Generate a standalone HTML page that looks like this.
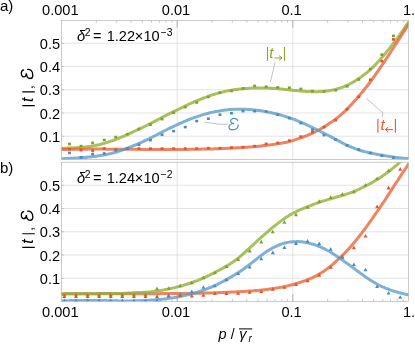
<!DOCTYPE html>
<html><head><meta charset="utf-8"><style>html,body{margin:0;padding:0;background:#fff}</style></head><body><svg width="415" height="344" viewBox="0 0 415 344" style="display:block;will-change:transform;font-family:'Liberation Sans',sans-serif">
<rect width="415" height="344" fill="#fff"/>
<defs>
<clipPath id="ca"><rect x="61.5" y="20.5" width="347.0" height="138.9"/></clipPath>
<clipPath id="cb"><rect x="61.5" y="162.2" width="347.0" height="139.10000000000002"/></clipPath>
</defs>
<path d="M177.17 20.5 V159.4 M177.17 162.2 V301.3 M292.83 20.5 V159.4 M292.83 162.2 V301.3 M61.5 136.20 H408.5 M61.5 278.25 H408.5 M61.5 112.95 H408.5 M61.5 255.00 H408.5 M61.5 89.70 H408.5 M61.5 231.75 H408.5 M61.5 66.45 H408.5 M61.5 208.50 H408.5 M61.5 43.20 H408.5 M61.5 185.25 H408.5" stroke="#d2d2d2" stroke-width="0.6" fill="none"/>
<g clip-path="url(#ca)">
<path d="M46.5 148.1 L48.0 148.1 L49.5 148.1 L51.0 148.1 L52.5 148.1 L54.0 148.1 L55.5 148.2 L57.0 148.2 L58.5 148.2 L60.0 148.2 L61.5 148.2 L63.0 148.2 L64.5 148.2 L66.0 148.2 L67.5 148.1 L69.0 148.1 L70.5 148.0 L72.0 148.0 L73.5 147.9 L75.0 147.8 L76.5 147.7 L78.0 147.6 L79.5 147.5 L81.0 147.4 L82.5 147.3 L84.0 147.2 L85.5 147.0 L87.0 146.8 L88.5 146.6 L90.0 146.4 L91.5 146.1 L93.0 145.9 L94.5 145.6 L96.0 145.3 L97.5 145.0 L99.0 144.7 L100.5 144.3 L102.0 143.9 L103.5 143.5 L105.0 143.1 L106.5 142.6 L108.0 142.2 L109.5 141.7 L111.0 141.2 L112.5 140.7 L114.0 140.1 L115.5 139.5 L117.0 138.9 L118.5 138.3 L120.0 137.7 L121.5 137.1 L123.0 136.5 L124.5 135.8 L126.0 135.1 L127.5 134.5 L129.0 133.8 L130.5 133.1 L132.0 132.4 L133.5 131.7 L135.0 131.0 L136.5 130.3 L138.0 129.6 L139.5 128.9 L141.0 128.2 L142.5 127.5 L144.0 126.7 L145.5 126.0 L147.0 125.3 L148.5 124.5 L150.0 123.7 L151.5 123.0 L153.0 122.2 L154.5 121.4 L156.0 120.6 L157.5 119.8 L159.0 119.0 L160.5 118.2 L162.0 117.4 L163.5 116.6 L165.0 115.8 L166.5 115.1 L168.0 114.3 L169.5 113.6 L171.0 112.9 L172.5 112.1 L174.0 111.4 L175.5 110.7 L177.0 110.0 L178.5 109.3 L180.0 108.5 L181.5 107.8 L183.0 107.1 L184.5 106.3 L186.0 105.6 L187.5 104.9 L189.0 104.2 L190.5 103.5 L192.0 102.8 L193.5 102.2 L195.0 101.5 L196.5 100.9 L198.0 100.3 L199.5 99.7 L201.0 99.1 L202.5 98.5 L204.0 97.9 L205.5 97.3 L207.0 96.8 L208.5 96.2 L210.0 95.7 L211.5 95.2 L213.0 94.7 L214.5 94.3 L216.0 93.8 L217.5 93.4 L219.0 92.9 L220.5 92.5 L222.0 92.1 L223.5 91.8 L225.0 91.4 L226.5 91.1 L228.0 90.8 L229.5 90.5 L231.0 90.3 L232.5 90.0 L234.0 89.8 L235.5 89.6 L237.0 89.4 L238.5 89.2 L240.0 89.0 L241.5 88.9 L243.0 88.7 L244.5 88.6 L246.0 88.5 L247.5 88.4 L249.0 88.3 L250.5 88.2 L252.0 88.1 L253.5 88.1 L255.0 88.0 L256.5 88.0 L258.0 88.0 L259.5 88.0 L261.0 88.0 L262.5 88.0 L264.0 88.0 L265.5 88.0 L267.0 88.1 L268.5 88.1 L270.0 88.2 L271.5 88.3 L273.0 88.4 L274.5 88.5 L276.0 88.6 L277.5 88.7 L279.0 88.8 L280.5 89.0 L282.0 89.1 L283.5 89.3 L285.0 89.4 L286.5 89.6 L288.0 89.7 L289.5 89.9 L291.0 90.0 L292.5 90.2 L294.0 90.4 L295.5 90.5 L297.0 90.7 L298.5 90.8 L300.0 91.0 L301.5 91.1 L303.0 91.2 L304.5 91.3 L306.0 91.4 L307.5 91.5 L309.0 91.6 L310.5 91.6 L312.0 91.7 L313.5 91.7 L315.0 91.7 L316.5 91.7 L318.0 91.7 L319.5 91.6 L321.0 91.5 L322.5 91.4 L324.0 91.3 L325.5 91.1 L327.0 90.9 L328.5 90.7 L330.0 90.5 L331.5 90.2 L333.0 89.9 L334.5 89.6 L336.0 89.2 L337.5 88.8 L339.0 88.3 L340.5 87.8 L342.0 87.3 L343.5 86.8 L345.0 86.1 L346.5 85.5 L348.0 84.8 L349.5 84.1 L351.0 83.3 L352.5 82.5 L354.0 81.6 L355.5 80.7 L357.0 79.7 L358.5 78.7 L360.0 77.7 L361.5 76.6 L363.0 75.5 L364.5 74.4 L366.0 73.3 L367.5 72.1 L369.0 70.8 L370.5 69.5 L372.0 68.1 L373.5 66.6 L375.0 65.1 L376.5 63.5 L378.0 61.9 L379.5 60.2 L381.0 58.5 L382.5 56.8 L384.0 55.0 L385.5 53.2 L387.0 51.4 L388.5 49.6 L390.0 47.7 L391.5 45.8 L393.0 43.9 L394.5 41.9 L396.0 39.9 L397.5 38.0 L399.0 35.9 L400.5 33.9 L402.0 31.7 L403.5 29.6 L405.0 27.4 L406.5 25.2 L408.0 23.1 L409.5 21.0 L411.0 18.9 L412.5 16.8 L414.0 14.7 L415.5 12.6 L417.0 10.6 L418.5 8.5 L420.0 6.5 L421.5 4.8 L423.0 3.5" stroke="#8fb032" stroke-opacity="0.78" stroke-width="3.0" fill="none" stroke-linejoin="round"/>
<path d="M46.5 149.7 L48.0 149.7 L49.5 149.7 L51.0 149.7 L52.5 149.6 L54.0 149.6 L55.5 149.6 L57.0 149.5 L58.5 149.5 L60.0 149.5 L61.5 149.5 L63.0 149.4 L64.5 149.4 L66.0 149.4 L67.5 149.3 L69.0 149.3 L70.5 149.3 L72.0 149.3 L73.5 149.3 L75.0 149.2 L76.5 149.2 L78.0 149.2 L79.5 149.2 L81.0 149.2 L82.5 149.2 L84.0 149.2 L85.5 149.2 L87.0 149.2 L88.5 149.1 L90.0 149.1 L91.5 149.1 L93.0 149.1 L94.5 149.1 L96.0 149.1 L97.5 149.1 L99.0 149.1 L100.5 149.1 L102.0 149.1 L103.5 149.1 L105.0 149.1 L106.5 149.2 L108.0 149.2 L109.5 149.2 L111.0 149.2 L112.5 149.2 L114.0 149.2 L115.5 149.2 L117.0 149.2 L118.5 149.2 L120.0 149.2 L121.5 149.2 L123.0 149.2 L124.5 149.2 L126.0 149.3 L127.5 149.3 L129.0 149.3 L130.5 149.3 L132.0 149.3 L133.5 149.3 L135.0 149.3 L136.5 149.3 L138.0 149.3 L139.5 149.3 L141.0 149.4 L142.5 149.4 L144.0 149.4 L145.5 149.4 L147.0 149.4 L148.5 149.4 L150.0 149.4 L151.5 149.4 L153.0 149.4 L154.5 149.4 L156.0 149.4 L157.5 149.4 L159.0 149.4 L160.5 149.4 L162.0 149.5 L163.5 149.5 L165.0 149.5 L166.5 149.5 L168.0 149.5 L169.5 149.5 L171.0 149.5 L172.5 149.4 L174.0 149.4 L175.5 149.4 L177.0 149.4 L178.5 149.4 L180.0 149.4 L181.5 149.4 L183.0 149.4 L184.5 149.4 L186.0 149.4 L187.5 149.4 L189.0 149.3 L190.5 149.3 L192.0 149.3 L193.5 149.3 L195.0 149.3 L196.5 149.2 L198.0 149.2 L199.5 149.2 L201.0 149.2 L202.5 149.1 L204.0 149.1 L205.5 149.1 L207.0 149.0 L208.5 149.0 L210.0 148.9 L211.5 148.9 L213.0 148.9 L214.5 148.8 L216.0 148.8 L217.5 148.7 L219.0 148.7 L220.5 148.6 L222.0 148.5 L223.5 148.5 L225.0 148.4 L226.5 148.4 L228.0 148.3 L229.5 148.2 L231.0 148.2 L232.5 148.1 L234.0 148.0 L235.5 147.9 L237.0 147.8 L238.5 147.8 L240.0 147.7 L241.5 147.6 L243.0 147.5 L244.5 147.4 L246.0 147.3 L247.5 147.2 L249.0 147.1 L250.5 147.0 L252.0 146.9 L253.5 146.7 L255.0 146.6 L256.5 146.5 L258.0 146.3 L259.5 146.2 L261.0 146.0 L262.5 145.8 L264.0 145.6 L265.5 145.5 L267.0 145.3 L268.5 145.1 L270.0 144.9 L271.5 144.7 L273.0 144.5 L274.5 144.3 L276.0 144.1 L277.5 143.8 L279.0 143.6 L280.5 143.4 L282.0 143.1 L283.5 142.8 L285.0 142.5 L286.5 142.2 L288.0 141.9 L289.5 141.5 L291.0 141.1 L292.5 140.7 L294.0 140.2 L295.5 139.7 L297.0 139.2 L298.5 138.7 L300.0 138.2 L301.5 137.6 L303.0 137.1 L304.5 136.5 L306.0 135.9 L307.5 135.3 L309.0 134.6 L310.5 134.0 L312.0 133.3 L313.5 132.6 L315.0 131.9 L316.5 131.1 L318.0 130.4 L319.5 129.6 L321.0 128.7 L322.5 127.9 L324.0 127.0 L325.5 126.1 L327.0 125.1 L328.5 124.1 L330.0 123.1 L331.5 122.1 L333.0 121.0 L334.5 119.9 L336.0 118.8 L337.5 117.6 L339.0 116.4 L340.5 115.1 L342.0 113.8 L343.5 112.5 L345.0 111.1 L346.5 109.6 L348.0 108.1 L349.5 106.5 L351.0 104.9 L352.5 103.2 L354.0 101.6 L355.5 99.9 L357.0 98.2 L358.5 96.4 L360.0 94.7 L361.5 92.9 L363.0 91.2 L364.5 89.3 L366.0 87.4 L367.5 85.5 L369.0 83.5 L370.5 81.5 L372.0 79.5 L373.5 77.4 L375.0 75.4 L376.5 73.2 L378.0 71.1 L379.5 68.9 L381.0 66.7 L382.5 64.5 L384.0 62.3 L385.5 60.0 L387.0 57.7 L388.5 55.4 L390.0 53.1 L391.5 50.8 L393.0 48.5 L394.5 46.2 L396.0 43.9 L397.5 41.6 L399.0 39.3 L400.5 36.9 L402.0 34.6 L403.5 32.3 L405.0 30.0 L406.5 27.7 L408.0 25.4 L409.5 23.1 L411.0 20.9 L412.5 18.6 L414.0 16.4 L415.5 14.2 L417.0 12.0 L418.5 9.8 L420.0 7.7 L421.5 5.8 L423.0 4.4" stroke="#eb6235" stroke-opacity="0.78" stroke-width="3.0" fill="none" stroke-linejoin="round"/>
<path d="M46.5 159.4 L48.0 159.4 L49.5 159.3 L51.0 159.3 L52.5 159.2 L54.0 159.1 L55.5 159.0 L57.0 159.0 L58.5 158.9 L60.0 158.8 L61.5 158.8 L63.0 158.7 L64.5 158.6 L66.0 158.6 L67.5 158.5 L69.0 158.4 L70.5 158.3 L72.0 158.3 L73.5 158.2 L75.0 158.1 L76.5 158.0 L78.0 157.9 L79.5 157.8 L81.0 157.7 L82.5 157.6 L84.0 157.5 L85.5 157.4 L87.0 157.2 L88.5 157.1 L90.0 157.0 L91.5 156.8 L93.0 156.6 L94.5 156.4 L96.0 156.2 L97.5 156.0 L99.0 155.8 L100.5 155.6 L102.0 155.3 L103.5 155.0 L105.0 154.8 L106.5 154.5 L108.0 154.1 L109.5 153.8 L111.0 153.5 L112.5 153.1 L114.0 152.7 L115.5 152.3 L117.0 151.8 L118.5 151.3 L120.0 150.8 L121.5 150.3 L123.0 149.8 L124.5 149.3 L126.0 148.7 L127.5 148.1 L129.0 147.5 L130.5 146.9 L132.0 146.3 L133.5 145.7 L135.0 145.1 L136.5 144.5 L138.0 143.9 L139.5 143.2 L141.0 142.5 L142.5 141.8 L144.0 141.1 L145.5 140.4 L147.0 139.7 L148.5 139.0 L150.0 138.2 L151.5 137.5 L153.0 136.7 L154.5 136.0 L156.0 135.2 L157.5 134.4 L159.0 133.6 L160.5 132.8 L162.0 132.1 L163.5 131.3 L165.0 130.5 L166.5 129.8 L168.0 129.0 L169.5 128.3 L171.0 127.6 L172.5 126.9 L174.0 126.2 L175.5 125.5 L177.0 124.8 L178.5 124.1 L180.0 123.4 L181.5 122.8 L183.0 122.1 L184.5 121.4 L186.0 120.8 L187.5 120.1 L189.0 119.5 L190.5 118.9 L192.0 118.4 L193.5 117.8 L195.0 117.3 L196.5 116.8 L198.0 116.3 L199.5 115.8 L201.0 115.3 L202.5 114.9 L204.0 114.4 L205.5 114.0 L207.0 113.6 L208.5 113.2 L210.0 112.8 L211.5 112.4 L213.0 112.1 L214.5 111.8 L216.0 111.5 L217.5 111.2 L219.0 110.9 L220.5 110.7 L222.0 110.4 L223.5 110.2 L225.0 110.0 L226.5 109.9 L228.0 109.7 L229.5 109.6 L231.0 109.5 L232.5 109.4 L234.0 109.3 L235.5 109.3 L237.0 109.2 L238.5 109.2 L240.0 109.2 L241.5 109.2 L243.0 109.2 L244.5 109.3 L246.0 109.3 L247.5 109.4 L249.0 109.5 L250.5 109.6 L252.0 109.7 L253.5 109.9 L255.0 110.0 L256.5 110.2 L258.0 110.4 L259.5 110.6 L261.0 110.8 L262.5 111.1 L264.0 111.3 L265.5 111.6 L267.0 111.9 L268.5 112.2 L270.0 112.5 L271.5 112.8 L273.0 113.2 L274.5 113.5 L276.0 113.8 L277.5 114.2 L279.0 114.6 L280.5 115.0 L282.0 115.4 L283.5 115.9 L285.0 116.3 L286.5 116.8 L288.0 117.3 L289.5 117.8 L291.0 118.3 L292.5 118.9 L294.0 119.4 L295.5 120.0 L297.0 120.6 L298.5 121.2 L300.0 121.8 L301.5 122.5 L303.0 123.1 L304.5 123.8 L306.0 124.5 L307.5 125.1 L309.0 125.8 L310.5 126.6 L312.0 127.3 L313.5 128.0 L315.0 128.8 L316.5 129.5 L318.0 130.3 L319.5 131.0 L321.0 131.8 L322.5 132.5 L324.0 133.2 L325.5 134.0 L327.0 134.8 L328.5 135.5 L330.0 136.3 L331.5 137.1 L333.0 137.9 L334.5 138.7 L336.0 139.5 L337.5 140.3 L339.0 141.1 L340.5 141.9 L342.0 142.7 L343.5 143.5 L345.0 144.2 L346.5 145.0 L348.0 145.7 L349.5 146.4 L351.0 147.0 L352.5 147.6 L354.0 148.2 L355.5 148.8 L357.0 149.3 L358.5 149.8 L360.0 150.3 L361.5 150.8 L363.0 151.2 L364.5 151.6 L366.0 151.9 L367.5 152.3 L369.0 152.7 L370.5 153.0 L372.0 153.3 L373.5 153.6 L375.0 153.9 L376.5 154.2 L378.0 154.5 L379.5 154.8 L381.0 155.0 L382.5 155.3 L384.0 155.6 L385.5 155.8 L387.0 156.1 L388.5 156.3 L390.0 156.5 L391.5 156.7 L393.0 157.0 L394.5 157.2 L396.0 157.4 L397.5 157.6 L399.0 157.7 L400.5 157.9 L402.0 158.1 L403.5 158.2 L405.0 158.4 L406.5 158.5 L408.0 158.6 L409.5 158.7 L411.0 158.8 L412.5 158.9 L414.0 159.1 L415.5 159.2 L417.0 159.3 L418.5 159.4 L420.0 159.5 L421.5 159.6 L423.0 159.6" stroke="#5b9bc8" stroke-opacity="0.78" stroke-width="3.0" fill="none" stroke-linejoin="round"/>
<rect x="68.0" y="142.7" width="2.9" height="2.6" fill="#7fa228"/>
<rect x="79.6" y="144.8" width="2.9" height="2.6" fill="#7fa228"/>
<rect x="91.2" y="141.6" width="2.9" height="2.6" fill="#7fa228"/>
<rect x="102.8" y="138.7" width="2.9" height="2.6" fill="#7fa228"/>
<rect x="114.3" y="135.8" width="2.9" height="2.6" fill="#7fa228"/>
<rect x="125.9" y="132.9" width="2.9" height="2.6" fill="#7fa228"/>
<rect x="137.5" y="127.7" width="2.9" height="2.6" fill="#7fa228"/>
<rect x="149.0" y="123.3" width="2.9" height="2.6" fill="#7fa228"/>
<rect x="160.6" y="117.8" width="2.9" height="2.6" fill="#7fa228"/>
<rect x="172.2" y="111.4" width="2.9" height="2.6" fill="#7fa228"/>
<rect x="183.8" y="105.8" width="2.9" height="2.6" fill="#7fa228"/>
<rect x="195.3" y="101.2" width="2.9" height="2.6" fill="#7fa228"/>
<rect x="206.9" y="95.6" width="2.9" height="2.6" fill="#7fa228"/>
<rect x="218.5" y="91.4" width="2.9" height="2.6" fill="#7fa228"/>
<rect x="230.0" y="89.6" width="2.9" height="2.6" fill="#7fa228"/>
<rect x="241.6" y="87.1" width="2.9" height="2.6" fill="#7fa228"/>
<rect x="253.2" y="84.6" width="2.9" height="2.6" fill="#7fa228"/>
<rect x="264.7" y="85.4" width="2.9" height="2.6" fill="#7fa228"/>
<rect x="276.3" y="86.1" width="2.9" height="2.6" fill="#7fa228"/>
<rect x="287.9" y="86.4" width="2.9" height="2.6" fill="#7fa228"/>
<rect x="299.4" y="87.6" width="2.9" height="2.6" fill="#7fa228"/>
<rect x="311.0" y="89.8" width="2.9" height="2.6" fill="#7fa228"/>
<rect x="322.6" y="90.2" width="2.9" height="2.6" fill="#7fa228"/>
<rect x="334.2" y="89.0" width="2.9" height="2.6" fill="#7fa228"/>
<rect x="345.7" y="85.0" width="2.9" height="2.6" fill="#7fa228"/>
<rect x="357.3" y="78.2" width="2.9" height="2.6" fill="#7fa228"/>
<rect x="368.9" y="67.7" width="2.9" height="2.6" fill="#7fa228"/>
<rect x="380.4" y="53.4" width="2.9" height="2.6" fill="#7fa228"/>
<rect x="392.0" y="34.6" width="2.9" height="2.6" fill="#7fa228"/>
<rect x="68.0" y="147.9" width="2.9" height="2.6" fill="#e4542a"/>
<rect x="79.6" y="148.9" width="2.9" height="2.6" fill="#e4542a"/>
<rect x="91.2" y="149.3" width="2.9" height="2.6" fill="#e4542a"/>
<rect x="102.8" y="147.3" width="2.9" height="2.6" fill="#e4542a"/>
<rect x="114.3" y="148.3" width="2.9" height="2.6" fill="#e4542a"/>
<rect x="125.9" y="147.3" width="2.9" height="2.6" fill="#e4542a"/>
<rect x="137.5" y="147.3" width="2.9" height="2.6" fill="#e4542a"/>
<rect x="149.0" y="147.3" width="2.9" height="2.6" fill="#e4542a"/>
<rect x="160.6" y="147.3" width="2.9" height="2.6" fill="#e4542a"/>
<rect x="172.2" y="147.3" width="2.9" height="2.6" fill="#e4542a"/>
<rect x="183.8" y="147.3" width="2.9" height="2.6" fill="#e4542a"/>
<rect x="195.3" y="147.3" width="2.9" height="2.6" fill="#e4542a"/>
<rect x="206.9" y="146.8" width="2.9" height="2.6" fill="#e4542a"/>
<rect x="218.5" y="146.8" width="2.9" height="2.6" fill="#e4542a"/>
<rect x="230.0" y="146.3" width="2.9" height="2.6" fill="#e4542a"/>
<rect x="241.6" y="145.8" width="2.9" height="2.6" fill="#e4542a"/>
<rect x="253.2" y="144.8" width="2.9" height="2.6" fill="#e4542a"/>
<rect x="264.7" y="142.6" width="2.9" height="2.6" fill="#e4542a"/>
<rect x="276.3" y="141.6" width="2.9" height="2.6" fill="#e4542a"/>
<rect x="287.9" y="139.3" width="2.9" height="2.6" fill="#e4542a"/>
<rect x="299.4" y="135.3" width="2.9" height="2.6" fill="#e4542a"/>
<rect x="311.0" y="130.8" width="2.9" height="2.6" fill="#e4542a"/>
<rect x="322.6" y="125.8" width="2.9" height="2.6" fill="#e4542a"/>
<rect x="334.2" y="118.8" width="2.9" height="2.6" fill="#e4542a"/>
<rect x="345.7" y="107.8" width="2.9" height="2.6" fill="#e4542a"/>
<rect x="357.3" y="95.5" width="2.9" height="2.6" fill="#e4542a"/>
<rect x="368.9" y="78.5" width="2.9" height="2.6" fill="#e4542a"/>
<rect x="380.4" y="59.9" width="2.9" height="2.6" fill="#e4542a"/>
<rect x="392.0" y="38.1" width="2.9" height="2.6" fill="#e4542a"/>
<rect x="68.0" y="151.6" width="2.9" height="2.6" fill="#4a8cc0"/>
<rect x="79.6" y="156.0" width="2.9" height="2.6" fill="#4a8cc0"/>
<rect x="91.2" y="152.7" width="2.9" height="2.6" fill="#4a8cc0"/>
<rect x="102.8" y="152.2" width="2.9" height="2.6" fill="#4a8cc0"/>
<rect x="114.3" y="148.9" width="2.9" height="2.6" fill="#4a8cc0"/>
<rect x="125.9" y="147.0" width="2.9" height="2.6" fill="#4a8cc0"/>
<rect x="137.5" y="143.5" width="2.9" height="2.6" fill="#4a8cc0"/>
<rect x="149.0" y="138.8" width="2.9" height="2.6" fill="#4a8cc0"/>
<rect x="160.6" y="133.5" width="2.9" height="2.6" fill="#4a8cc0"/>
<rect x="172.2" y="129.8" width="2.9" height="2.6" fill="#4a8cc0"/>
<rect x="183.8" y="125.8" width="2.9" height="2.6" fill="#4a8cc0"/>
<rect x="195.3" y="119.8" width="2.9" height="2.6" fill="#4a8cc0"/>
<rect x="206.9" y="117.4" width="2.9" height="2.6" fill="#4a8cc0"/>
<rect x="218.5" y="113.4" width="2.9" height="2.6" fill="#4a8cc0"/>
<rect x="230.0" y="111.9" width="2.9" height="2.6" fill="#4a8cc0"/>
<rect x="241.6" y="109.8" width="2.9" height="2.6" fill="#4a8cc0"/>
<rect x="253.2" y="109.8" width="2.9" height="2.6" fill="#4a8cc0"/>
<rect x="264.7" y="110.3" width="2.9" height="2.6" fill="#4a8cc0"/>
<rect x="276.3" y="113.3" width="2.9" height="2.6" fill="#4a8cc0"/>
<rect x="287.9" y="116.8" width="2.9" height="2.6" fill="#4a8cc0"/>
<rect x="299.4" y="121.8" width="2.9" height="2.6" fill="#4a8cc0"/>
<rect x="311.0" y="128.3" width="2.9" height="2.6" fill="#4a8cc0"/>
<rect x="322.6" y="133.8" width="2.9" height="2.6" fill="#4a8cc0"/>
<rect x="334.2" y="138.3" width="2.9" height="2.6" fill="#4a8cc0"/>
<rect x="345.7" y="144.1" width="2.9" height="2.6" fill="#4a8cc0"/>
<rect x="357.3" y="148.3" width="2.9" height="2.6" fill="#4a8cc0"/>
<rect x="368.9" y="151.6" width="2.9" height="2.6" fill="#4a8cc0"/>
<rect x="380.4" y="154.3" width="2.9" height="2.6" fill="#4a8cc0"/>
<rect x="392.0" y="156.3" width="2.9" height="2.6" fill="#4a8cc0"/>
</g>
<g clip-path="url(#cb)">
<path d="M46.5 294.1 L48.0 294.1 L49.5 294.0 L51.0 294.0 L52.5 294.0 L54.0 294.0 L55.5 294.0 L57.0 294.0 L58.5 293.9 L60.0 293.9 L61.5 293.9 L63.0 293.9 L64.5 293.9 L66.0 293.8 L67.5 293.8 L69.0 293.8 L70.5 293.8 L72.0 293.8 L73.5 293.8 L75.0 293.8 L76.5 293.7 L78.0 293.7 L79.5 293.7 L81.0 293.7 L82.5 293.7 L84.0 293.7 L85.5 293.7 L87.0 293.7 L88.5 293.7 L90.0 293.7 L91.5 293.7 L93.0 293.7 L94.5 293.7 L96.0 293.7 L97.5 293.7 L99.0 293.7 L100.5 293.6 L102.0 293.6 L103.5 293.6 L105.0 293.6 L106.5 293.6 L108.0 293.6 L109.5 293.6 L111.0 293.6 L112.5 293.7 L114.0 293.7 L115.5 293.7 L117.0 293.7 L118.5 293.7 L120.0 293.7 L121.5 293.7 L123.0 293.7 L124.5 293.7 L126.0 293.7 L127.5 293.7 L129.0 293.7 L130.5 293.7 L132.0 293.7 L133.5 293.7 L135.0 293.7 L136.5 293.7 L138.0 293.7 L139.5 293.7 L141.0 293.7 L142.5 293.7 L144.0 293.7 L145.5 293.7 L147.0 293.7 L148.5 293.7 L150.0 293.7 L151.5 293.7 L153.0 293.7 L154.5 293.7 L156.0 293.7 L157.5 293.7 L159.0 293.7 L160.5 293.6 L162.0 293.6 L163.5 293.6 L165.0 293.6 L166.5 293.6 L168.0 293.6 L169.5 293.6 L171.0 293.6 L172.5 293.6 L174.0 293.6 L175.5 293.6 L177.0 293.6 L178.5 293.5 L180.0 293.5 L181.5 293.5 L183.0 293.5 L184.5 293.5 L186.0 293.4 L187.5 293.4 L189.0 293.4 L190.5 293.4 L192.0 293.4 L193.5 293.3 L195.0 293.3 L196.5 293.3 L198.0 293.2 L199.5 293.2 L201.0 293.2 L202.5 293.1 L204.0 293.1 L205.5 293.1 L207.0 293.0 L208.5 293.0 L210.0 292.9 L211.5 292.9 L213.0 292.8 L214.5 292.8 L216.0 292.7 L217.5 292.7 L219.0 292.6 L220.5 292.6 L222.0 292.5 L223.5 292.5 L225.0 292.4 L226.5 292.3 L228.0 292.3 L229.5 292.2 L231.0 292.1 L232.5 292.1 L234.0 292.0 L235.5 291.9 L237.0 291.8 L238.5 291.8 L240.0 291.7 L241.5 291.6 L243.0 291.5 L244.5 291.4 L246.0 291.3 L247.5 291.2 L249.0 291.1 L250.5 291.0 L252.0 290.9 L253.5 290.8 L255.0 290.6 L256.5 290.5 L258.0 290.4 L259.5 290.2 L261.0 290.1 L262.5 289.9 L264.0 289.7 L265.5 289.6 L267.0 289.4 L268.5 289.2 L270.0 289.0 L271.5 288.8 L273.0 288.6 L274.5 288.4 L276.0 288.1 L277.5 287.9 L279.0 287.6 L280.5 287.4 L282.0 287.1 L283.5 286.8 L285.0 286.5 L286.5 286.1 L288.0 285.8 L289.5 285.4 L291.0 285.0 L292.5 284.6 L294.0 284.2 L295.5 283.7 L297.0 283.3 L298.5 282.8 L300.0 282.3 L301.5 281.8 L303.0 281.3 L304.5 280.8 L306.0 280.3 L307.5 279.7 L309.0 279.1 L310.5 278.5 L312.0 277.8 L313.5 277.1 L315.0 276.4 L316.5 275.6 L318.0 274.8 L319.5 273.9 L321.0 273.0 L322.5 272.0 L324.0 271.1 L325.5 270.0 L327.0 268.9 L328.5 267.8 L330.0 266.6 L331.5 265.4 L333.0 264.1 L334.5 262.8 L336.0 261.4 L337.5 260.0 L339.0 258.6 L340.5 257.2 L342.0 255.7 L343.5 254.3 L345.0 252.7 L346.5 251.2 L348.0 249.6 L349.5 247.9 L351.0 246.2 L352.5 244.5 L354.0 242.8 L355.5 241.0 L357.0 239.1 L358.5 237.2 L360.0 235.3 L361.5 233.4 L363.0 231.4 L364.5 229.4 L366.0 227.3 L367.5 225.3 L369.0 223.2 L370.5 221.1 L372.0 219.0 L373.5 216.8 L375.0 214.7 L376.5 212.5 L378.0 210.3 L379.5 208.2 L381.0 205.9 L382.5 203.7 L384.0 201.5 L385.5 199.2 L387.0 196.9 L388.5 194.6 L390.0 192.3 L391.5 189.9 L393.0 187.6 L394.5 185.3 L396.0 183.0 L397.5 180.7 L399.0 178.4 L400.5 176.1 L402.0 173.8 L403.5 171.6 L405.0 169.3 L406.5 167.1 L408.0 164.9 L409.5 162.7 L411.0 160.6 L412.5 158.5 L414.0 156.4 L415.5 154.4 L417.0 152.3 L418.5 150.2 L420.0 148.2 L421.5 146.5 L423.0 145.2" stroke="#eb6235" stroke-opacity="0.78" stroke-width="3.0" fill="none" stroke-linejoin="round"/>
<path d="M46.5 294.3 L48.0 294.2 L49.5 294.2 L51.0 294.2 L52.5 294.1 L54.0 294.1 L55.5 294.1 L57.0 294.0 L58.5 294.0 L60.0 293.9 L61.5 293.9 L63.0 293.9 L64.5 293.8 L66.0 293.8 L67.5 293.8 L69.0 293.8 L70.5 293.7 L72.0 293.7 L73.5 293.7 L75.0 293.7 L76.5 293.7 L78.0 293.7 L79.5 293.7 L81.0 293.7 L82.5 293.7 L84.0 293.7 L85.5 293.7 L87.0 293.7 L88.5 293.7 L90.0 293.7 L91.5 293.7 L93.0 293.7 L94.5 293.7 L96.0 293.7 L97.5 293.7 L99.0 293.7 L100.5 293.7 L102.0 293.7 L103.5 293.7 L105.0 293.7 L106.5 293.7 L108.0 293.7 L109.5 293.7 L111.0 293.7 L112.5 293.7 L114.0 293.6 L115.5 293.6 L117.0 293.6 L118.5 293.6 L120.0 293.5 L121.5 293.5 L123.0 293.4 L124.5 293.3 L126.0 293.2 L127.5 293.2 L129.0 293.1 L130.5 293.0 L132.0 292.9 L133.5 292.8 L135.0 292.7 L136.5 292.6 L138.0 292.6 L139.5 292.5 L141.0 292.5 L142.5 292.4 L144.0 292.3 L145.5 292.2 L147.0 292.1 L148.5 292.0 L150.0 291.9 L151.5 291.7 L153.0 291.5 L154.5 291.3 L156.0 291.1 L157.5 290.9 L159.0 290.7 L160.5 290.4 L162.0 290.2 L163.5 289.9 L165.0 289.6 L166.5 289.4 L168.0 289.1 L169.5 288.8 L171.0 288.4 L172.5 288.1 L174.0 287.7 L175.5 287.4 L177.0 287.0 L178.5 286.6 L180.0 286.2 L181.5 285.8 L183.0 285.4 L184.5 284.9 L186.0 284.5 L187.5 284.0 L189.0 283.5 L190.5 283.0 L192.0 282.5 L193.5 282.0 L195.0 281.4 L196.5 280.8 L198.0 280.3 L199.5 279.7 L201.0 279.0 L202.5 278.4 L204.0 277.7 L205.5 277.1 L207.0 276.4 L208.5 275.7 L210.0 274.9 L211.5 274.2 L213.0 273.4 L214.5 272.6 L216.0 271.8 L217.5 271.0 L219.0 270.2 L220.5 269.4 L222.0 268.6 L223.5 267.7 L225.0 266.9 L226.5 266.1 L228.0 265.2 L229.5 264.2 L231.0 263.3 L232.5 262.2 L234.0 261.2 L235.5 260.1 L237.0 259.0 L238.5 257.8 L240.0 256.6 L241.5 255.3 L243.0 254.0 L244.5 252.7 L246.0 251.3 L247.5 249.9 L249.0 248.6 L250.5 247.2 L252.0 245.8 L253.5 244.4 L255.0 243.0 L256.5 241.6 L258.0 240.2 L259.5 238.9 L261.0 237.5 L262.5 236.2 L264.0 234.9 L265.5 233.6 L267.0 232.3 L268.5 231.0 L270.0 229.7 L271.5 228.4 L273.0 227.2 L274.5 226.0 L276.0 224.8 L277.5 223.6 L279.0 222.5 L280.5 221.4 L282.0 220.3 L283.5 219.2 L285.0 218.1 L286.5 217.1 L288.0 216.2 L289.5 215.2 L291.0 214.4 L292.5 213.5 L294.0 212.7 L295.5 212.0 L297.0 211.2 L298.5 210.5 L300.0 209.8 L301.5 209.2 L303.0 208.6 L304.5 207.9 L306.0 207.3 L307.5 206.8 L309.0 206.2 L310.5 205.6 L312.0 205.0 L313.5 204.4 L315.0 203.9 L316.5 203.3 L318.0 202.8 L319.5 202.2 L321.0 201.7 L322.5 201.2 L324.0 200.8 L325.5 200.3 L327.0 199.8 L328.5 199.4 L330.0 199.0 L331.5 198.5 L333.0 198.1 L334.5 197.7 L336.0 197.2 L337.5 196.8 L339.0 196.4 L340.5 196.0 L342.0 195.5 L343.5 195.1 L345.0 194.7 L346.5 194.2 L348.0 193.7 L349.5 193.2 L351.0 192.6 L352.5 192.1 L354.0 191.5 L355.5 190.8 L357.0 190.2 L358.5 189.5 L360.0 188.7 L361.5 188.0 L363.0 187.3 L364.5 186.5 L366.0 185.7 L367.5 185.0 L369.0 184.2 L370.5 183.4 L372.0 182.6 L373.5 181.7 L375.0 180.8 L376.5 179.9 L378.0 179.0 L379.5 178.0 L381.0 177.0 L382.5 176.0 L384.0 174.9 L385.5 173.9 L387.0 172.8 L388.5 171.7 L390.0 170.6 L391.5 169.4 L393.0 168.2 L394.5 166.9 L396.0 165.6 L397.5 164.3 L399.0 162.9 L400.5 161.6 L402.0 160.2 L403.5 158.8 L405.0 157.3 L406.5 155.9 L408.0 154.4 L409.5 152.9 L411.0 151.4 L412.5 149.9 L414.0 148.3 L415.5 146.8 L417.0 145.3 L418.5 143.8 L420.0 142.4 L421.5 141.1 L423.0 140.1" stroke="#8fb032" stroke-opacity="0.78" stroke-width="3.0" fill="none" stroke-linejoin="round"/>
<path d="M46.5 302.1 L48.0 302.0 L49.5 301.9 L51.0 301.8 L52.5 301.7 L54.0 301.6 L55.5 301.5 L57.0 301.4 L58.5 301.3 L60.0 301.2 L61.5 301.1 L63.0 301.0 L64.5 300.9 L66.0 300.8 L67.5 300.8 L69.0 300.7 L70.5 300.6 L72.0 300.6 L73.5 300.5 L75.0 300.5 L76.5 300.5 L78.0 300.4 L79.5 300.4 L81.0 300.4 L82.5 300.4 L84.0 300.4 L85.5 300.4 L87.0 300.4 L88.5 300.4 L90.0 300.4 L91.5 300.4 L93.0 300.4 L94.5 300.4 L96.0 300.5 L97.5 300.5 L99.0 300.5 L100.5 300.5 L102.0 300.6 L103.5 300.6 L105.0 300.6 L106.5 300.6 L108.0 300.7 L109.5 300.7 L111.0 300.7 L112.5 300.8 L114.0 300.8 L115.5 300.8 L117.0 300.8 L118.5 300.9 L120.0 300.9 L121.5 300.9 L123.0 300.9 L124.5 300.9 L126.0 300.9 L127.5 300.9 L129.0 300.9 L130.5 300.9 L132.0 300.9 L133.5 300.9 L135.0 300.8 L136.5 300.8 L138.0 300.7 L139.5 300.7 L141.0 300.6 L142.5 300.6 L144.0 300.5 L145.5 300.4 L147.0 300.3 L148.5 300.2 L150.0 300.2 L151.5 300.1 L153.0 300.0 L154.5 299.9 L156.0 299.7 L157.5 299.6 L159.0 299.5 L160.5 299.4 L162.0 299.2 L163.5 299.1 L165.0 298.9 L166.5 298.7 L168.0 298.5 L169.5 298.3 L171.0 298.1 L172.5 297.9 L174.0 297.6 L175.5 297.4 L177.0 297.1 L178.5 296.9 L180.0 296.6 L181.5 296.3 L183.0 295.9 L184.5 295.6 L186.0 295.3 L187.5 294.9 L189.0 294.5 L190.5 294.2 L192.0 293.8 L193.5 293.3 L195.0 292.9 L196.5 292.4 L198.0 292.0 L199.5 291.5 L201.0 291.0 L202.5 290.5 L204.0 289.9 L205.5 289.4 L207.0 288.8 L208.5 288.2 L210.0 287.6 L211.5 287.0 L213.0 286.3 L214.5 285.7 L216.0 285.0 L217.5 284.3 L219.0 283.5 L220.5 282.8 L222.0 282.0 L223.5 281.2 L225.0 280.4 L226.5 279.6 L228.0 278.7 L229.5 277.9 L231.0 277.0 L232.5 276.1 L234.0 275.2 L235.5 274.3 L237.0 273.4 L238.5 272.4 L240.0 271.4 L241.5 270.4 L243.0 269.4 L244.5 268.3 L246.0 267.2 L247.5 266.1 L249.0 265.0 L250.5 263.8 L252.0 262.6 L253.5 261.5 L255.0 260.3 L256.5 259.1 L258.0 257.9 L259.5 256.7 L261.0 255.6 L262.5 254.5 L264.0 253.4 L265.5 252.3 L267.0 251.3 L268.5 250.4 L270.0 249.5 L271.5 248.6 L273.0 247.8 L274.5 247.0 L276.0 246.3 L277.5 245.6 L279.0 245.0 L280.5 244.4 L282.0 243.9 L283.5 243.4 L285.0 243.0 L286.5 242.7 L288.0 242.4 L289.5 242.1 L291.0 242.0 L292.5 241.8 L294.0 241.7 L295.5 241.7 L297.0 241.6 L298.5 241.6 L300.0 241.7 L301.5 241.8 L303.0 242.0 L304.5 242.2 L306.0 242.5 L307.5 242.9 L309.0 243.2 L310.5 243.6 L312.0 244.0 L313.5 244.4 L315.0 244.9 L316.5 245.4 L318.0 246.0 L319.5 246.6 L321.0 247.2 L322.5 247.9 L324.0 248.6 L325.5 249.4 L327.0 250.2 L328.5 251.0 L330.0 251.8 L331.5 252.7 L333.0 253.7 L334.5 254.7 L336.0 255.7 L337.5 256.7 L339.0 257.7 L340.5 258.7 L342.0 259.8 L343.5 260.8 L345.0 261.9 L346.5 262.9 L348.0 264.0 L349.5 265.1 L351.0 266.2 L352.5 267.3 L354.0 268.4 L355.5 269.6 L357.0 270.7 L358.5 271.8 L360.0 272.9 L361.5 274.0 L363.0 275.0 L364.5 276.1 L366.0 277.2 L367.5 278.2 L369.0 279.2 L370.5 280.2 L372.0 281.1 L373.5 282.0 L375.0 282.9 L376.5 283.8 L378.0 284.6 L379.5 285.3 L381.0 286.1 L382.5 286.8 L384.0 287.4 L385.5 288.1 L387.0 288.7 L388.5 289.2 L390.0 289.8 L391.5 290.3 L393.0 290.8 L394.5 291.3 L396.0 291.7 L397.5 292.1 L399.0 292.6 L400.5 293.0 L402.0 293.4 L403.5 293.8 L405.0 294.1 L406.5 294.5 L408.0 294.9 L409.5 295.3 L411.0 295.7 L412.5 296.1 L414.0 296.5 L415.5 296.9 L417.0 297.3 L418.5 297.6 L420.0 298.0 L421.5 298.3 L423.0 298.6" stroke="#5b9bc8" stroke-opacity="0.78" stroke-width="3.0" fill="none" stroke-linejoin="round"/>
</g>
<rect x="61.5" y="20.5" width="347.0" height="138.9" fill="none" stroke="#a8a8a8" stroke-width="0.6"/>
<rect x="61.5" y="162.2" width="347.0" height="139.10000000000002" fill="none" stroke="#a8a8a8" stroke-width="0.6"/>
<path d="M96.32 20.5 v2.4 M96.32 301.3 v-2.4 M116.69 20.5 v2.4 M116.69 301.3 v-2.4 M131.14 20.5 v2.4 M131.14 301.3 v-2.4 M142.35 20.5 v2.4 M142.35 301.3 v-2.4 M151.51 20.5 v2.4 M151.51 301.3 v-2.4 M159.25 20.5 v2.4 M159.25 301.3 v-2.4 M165.96 20.5 v2.4 M165.96 301.3 v-2.4 M171.87 20.5 v2.4 M171.87 301.3 v-2.4 M211.99 20.5 v2.4 M211.99 301.3 v-2.4 M232.35 20.5 v2.4 M232.35 301.3 v-2.4 M246.80 20.5 v2.4 M246.80 301.3 v-2.4 M258.01 20.5 v2.4 M258.01 301.3 v-2.4 M267.17 20.5 v2.4 M267.17 301.3 v-2.4 M274.92 20.5 v2.4 M274.92 301.3 v-2.4 M281.62 20.5 v2.4 M281.62 301.3 v-2.4 M287.54 20.5 v2.4 M287.54 301.3 v-2.4 M327.65 20.5 v2.4 M327.65 301.3 v-2.4 M348.02 20.5 v2.4 M348.02 301.3 v-2.4 M362.47 20.5 v2.4 M362.47 301.3 v-2.4 M373.68 20.5 v2.4 M373.68 301.3 v-2.4 M382.84 20.5 v2.4 M382.84 301.3 v-2.4 M390.58 20.5 v2.4 M390.58 301.3 v-2.4 M397.29 20.5 v2.4 M397.29 301.3 v-2.4 M403.21 20.5 v2.4 M403.21 301.3 v-2.4 M61.5 136.20 h2.4 M61.5 278.25 h2.4 M61.5 112.95 h2.4 M61.5 255.00 h2.4 M61.5 89.70 h2.4 M61.5 231.75 h2.4 M61.5 66.45 h2.4 M61.5 208.50 h2.4 M61.5 43.20 h2.4 M61.5 185.25 h2.4" stroke="#a8a8a8" stroke-width="0.6" fill="none"/>
<path d="M177.17 20.5 v7.2 M177.17 301.3 v-7.2 M292.83 20.5 v7.2 M292.83 301.3 v-7.2" stroke="#8a8a8a" stroke-width="0.6" fill="none"/>
<g font-size="14.6" fill="#000">
<text x="60.3" y="15.1" text-anchor="middle">0.001</text>
<text x="60.3" y="317.3" text-anchor="middle">0.001</text>
<text x="176.0" y="15.1" text-anchor="middle">0.01</text>
<text x="176.0" y="317.3" text-anchor="middle">0.01</text>
<text x="291.6" y="15.1" text-anchor="middle">0.1</text>
<text x="291.6" y="317.3" text-anchor="middle">0.1</text>
<text x="409.1" y="15.1" text-anchor="middle">1.</text>
<text x="409.1" y="317.3" text-anchor="middle">1.</text>
<text x="60.1" y="141.8" text-anchor="end">0.1</text>
<text x="60.1" y="283.9" text-anchor="end">0.1</text>
<text x="60.1" y="118.5" text-anchor="end">0.2</text>
<text x="60.1" y="260.6" text-anchor="end">0.2</text>
<text x="60.1" y="95.3" text-anchor="end">0.3</text>
<text x="60.1" y="237.3" text-anchor="end">0.3</text>
<text x="60.1" y="72.0" text-anchor="end">0.4</text>
<text x="60.1" y="214.1" text-anchor="end">0.4</text>
<text x="60.1" y="48.8" text-anchor="end">0.5</text>
<text x="60.1" y="190.8" text-anchor="end">0.5</text>
<text x="0" y="11.4" font-size="15">a)</text>
<text x="0" y="173.0" font-size="15">b)</text>
</g>
<g clip-path="url(#cb)">
<path d="M62.4 296.2 L64.4 292.6 L66.4 296.2Z" fill="#7fa228"/>
<path d="M74.0 296.2 L76.0 292.6 L78.0 296.2Z" fill="#7fa228"/>
<path d="M85.6 296.2 L87.6 292.6 L89.6 296.2Z" fill="#7fa228"/>
<path d="M97.1 296.2 L99.1 292.6 L101.1 296.2Z" fill="#7fa228"/>
<path d="M108.7 296.2 L110.7 292.6 L112.7 296.2Z" fill="#7fa228"/>
<path d="M120.3 296.2 L122.3 292.6 L124.3 296.2Z" fill="#7fa228"/>
<path d="M131.9 296.2 L133.9 292.6 L135.9 296.2Z" fill="#7fa228"/>
<path d="M143.5 296.2 L145.5 292.6 L147.5 296.2Z" fill="#7fa228"/>
<path d="M155.0 290.2 L157.0 286.6 L159.0 290.2Z" fill="#7fa228"/>
<path d="M166.6 289.8 L168.6 286.2 L170.6 289.8Z" fill="#7fa228"/>
<path d="M178.2 287.3 L180.2 283.7 L182.2 287.3Z" fill="#7fa228"/>
<path d="M189.8 284.3 L191.8 280.7 L193.8 284.3Z" fill="#7fa228"/>
<path d="M201.4 279.2 L203.4 275.6 L205.4 279.2Z" fill="#7fa228"/>
<path d="M212.9 274.2 L214.9 270.6 L216.9 274.2Z" fill="#7fa228"/>
<path d="M224.5 268.0 L226.5 264.4 L228.5 268.0Z" fill="#7fa228"/>
<path d="M236.1 260.9 L238.1 257.3 L240.1 260.9Z" fill="#7fa228"/>
<path d="M247.7 252.4 L249.7 248.8 L251.7 252.4Z" fill="#7fa228"/>
<path d="M259.3 243.4 L261.3 239.8 L263.3 243.4Z" fill="#7fa228"/>
<path d="M270.8 233.3 L272.8 229.7 L274.8 233.3Z" fill="#7fa228"/>
<path d="M282.4 223.8 L284.4 220.2 L286.4 223.8Z" fill="#7fa228"/>
<path d="M294.0 216.2 L296.0 212.6 L298.0 216.2Z" fill="#7fa228"/>
<path d="M305.6 208.7 L307.6 205.1 L309.6 208.7Z" fill="#7fa228"/>
<path d="M317.2 202.9 L319.2 199.3 L321.2 202.9Z" fill="#7fa228"/>
<path d="M328.7 198.9 L330.7 195.3 L332.7 198.9Z" fill="#7fa228"/>
<path d="M340.3 195.7 L342.3 192.1 L344.3 195.7Z" fill="#7fa228"/>
<path d="M351.9 193.2 L353.9 189.6 L355.9 193.2Z" fill="#7fa228"/>
<path d="M363.5 186.6 L365.5 183.0 L367.5 186.6Z" fill="#7fa228"/>
<path d="M375.1 180.0 L377.1 176.4 L379.1 180.0Z" fill="#7fa228"/>
<path d="M386.6 172.0 L388.6 168.4 L390.6 172.0Z" fill="#7fa228"/>
<path d="M62.4 297.9 L64.4 294.3 L66.4 297.9Z" fill="#e4542a"/>
<path d="M74.0 297.9 L76.0 294.3 L78.0 297.9Z" fill="#e4542a"/>
<path d="M85.6 297.9 L87.6 294.3 L89.6 297.9Z" fill="#e4542a"/>
<path d="M97.1 297.9 L99.1 294.3 L101.1 297.9Z" fill="#e4542a"/>
<path d="M108.7 297.9 L110.7 294.3 L112.7 297.9Z" fill="#e4542a"/>
<path d="M120.3 297.9 L122.3 294.3 L124.3 297.9Z" fill="#e4542a"/>
<path d="M131.9 297.9 L133.9 294.3 L135.9 297.9Z" fill="#e4542a"/>
<path d="M143.5 297.9 L145.5 294.3 L147.5 297.9Z" fill="#e4542a"/>
<path d="M155.0 297.9 L157.0 294.3 L159.0 297.9Z" fill="#e4542a"/>
<path d="M166.6 297.1 L168.6 293.5 L170.6 297.1Z" fill="#e4542a"/>
<path d="M178.2 297.1 L180.2 293.5 L182.2 297.1Z" fill="#e4542a"/>
<path d="M189.8 297.6 L191.8 294.0 L193.8 297.6Z" fill="#e4542a"/>
<path d="M201.4 296.8 L203.4 293.2 L205.4 296.8Z" fill="#e4542a"/>
<path d="M212.9 295.0 L214.9 291.4 L216.9 295.0Z" fill="#e4542a"/>
<path d="M224.5 295.0 L226.5 291.4 L228.5 295.0Z" fill="#e4542a"/>
<path d="M236.1 294.8 L238.1 291.2 L240.1 294.8Z" fill="#e4542a"/>
<path d="M247.7 293.8 L249.7 290.2 L251.7 293.8Z" fill="#e4542a"/>
<path d="M259.3 293.0 L261.3 289.4 L263.3 293.0Z" fill="#e4542a"/>
<path d="M270.8 290.8 L272.8 287.2 L274.8 290.8Z" fill="#e4542a"/>
<path d="M282.4 288.8 L284.4 285.2 L286.4 288.8Z" fill="#e4542a"/>
<path d="M294.0 286.0 L296.0 282.4 L298.0 286.0Z" fill="#e4542a"/>
<path d="M305.6 282.3 L307.6 278.7 L309.6 282.3Z" fill="#e4542a"/>
<path d="M317.2 276.7 L319.2 273.1 L321.2 276.7Z" fill="#e4542a"/>
<path d="M328.7 268.7 L330.7 265.1 L332.7 268.7Z" fill="#e4542a"/>
<path d="M340.3 258.4 L342.3 254.8 L344.3 258.4Z" fill="#e4542a"/>
<path d="M351.9 249.2 L353.9 245.6 L355.9 249.2Z" fill="#e4542a"/>
<path d="M363.5 237.5 L365.5 233.9 L367.5 237.5Z" fill="#e4542a"/>
<path d="M375.1 208.2 L377.1 204.6 L379.1 208.2Z" fill="#e4542a"/>
<path d="M386.6 189.4 L388.6 185.8 L390.6 189.4Z" fill="#e4542a"/>
<path d="M398.2 170.7 L400.2 167.1 L402.2 170.7Z" fill="#e4542a"/>
<path d="M62.4 302.2 L64.4 298.6 L66.4 302.2Z" fill="#4a8cc0"/>
<path d="M74.0 302.2 L76.0 298.6 L78.0 302.2Z" fill="#4a8cc0"/>
<path d="M85.6 302.2 L87.6 298.6 L89.6 302.2Z" fill="#4a8cc0"/>
<path d="M97.1 302.2 L99.1 298.6 L101.1 302.2Z" fill="#4a8cc0"/>
<path d="M108.7 302.2 L110.7 298.6 L112.7 302.2Z" fill="#4a8cc0"/>
<path d="M120.3 302.2 L122.3 298.6 L124.3 302.2Z" fill="#4a8cc0"/>
<path d="M131.9 302.2 L133.9 298.6 L135.9 302.2Z" fill="#4a8cc0"/>
<path d="M143.5 302.2 L145.5 298.6 L147.5 302.2Z" fill="#4a8cc0"/>
<path d="M155.0 302.2 L157.0 298.6 L159.0 302.2Z" fill="#4a8cc0"/>
<path d="M166.6 297.5 L168.6 293.9 L170.6 297.5Z" fill="#4a8cc0"/>
<path d="M178.2 296.0 L180.2 292.4 L182.2 296.0Z" fill="#4a8cc0"/>
<path d="M189.8 293.0 L191.8 289.4 L193.8 293.0Z" fill="#4a8cc0"/>
<path d="M201.4 288.8 L203.4 285.2 L205.4 288.8Z" fill="#4a8cc0"/>
<path d="M212.9 287.3 L214.9 283.7 L216.9 287.3Z" fill="#4a8cc0"/>
<path d="M224.5 281.2 L226.5 277.6 L228.5 281.2Z" fill="#4a8cc0"/>
<path d="M236.1 275.0 L238.1 271.4 L240.1 275.0Z" fill="#4a8cc0"/>
<path d="M247.7 268.5 L249.7 264.9 L251.7 268.5Z" fill="#4a8cc0"/>
<path d="M259.3 260.3 L261.3 256.7 L263.3 260.3Z" fill="#4a8cc0"/>
<path d="M270.8 254.2 L272.8 250.6 L274.8 254.2Z" fill="#4a8cc0"/>
<path d="M282.4 248.9 L284.4 245.3 L286.4 248.9Z" fill="#4a8cc0"/>
<path d="M294.0 244.9 L296.0 241.3 L298.0 244.9Z" fill="#4a8cc0"/>
<path d="M305.6 242.7 L307.6 239.1 L309.6 242.7Z" fill="#4a8cc0"/>
<path d="M317.2 245.2 L319.2 241.6 L321.2 245.2Z" fill="#4a8cc0"/>
<path d="M328.7 250.7 L330.7 247.1 L332.7 250.7Z" fill="#4a8cc0"/>
<path d="M340.3 258.4 L342.3 254.8 L344.3 258.4Z" fill="#4a8cc0"/>
<path d="M351.9 266.0 L353.9 262.4 L355.9 266.0Z" fill="#4a8cc0"/>
<path d="M363.5 271.3 L365.5 267.7 L367.5 271.3Z" fill="#4a8cc0"/>
<path d="M375.1 288.0 L377.1 284.4 L379.1 288.0Z" fill="#4a8cc0"/>
<path d="M386.6 294.5 L388.6 290.9 L390.6 294.5Z" fill="#4a8cc0"/>
<path d="M398.2 298.8 L400.2 295.2 L402.2 298.8Z" fill="#4a8cc0"/>
</g>
<path d="M275.1 62.6 L270.3 82.2 M366.2 98.3 L382.6 112.7 V117.4 M204.8 122 L218.5 124.2 H227.7" stroke="#9a9a9a" stroke-width="0.6" fill="none"/>
<g font-size="14.6" fill="#000"><text x="76.9" y="41.3" font-style="italic" font-size="14.8">δ</text><text x="84.8" y="35.699999999999996" font-size="10.4">2</text><text x="93.1" y="41.3">=</text><text x="106.7" y="41.3">1.22</text><text x="134.8" y="41.3">×</text><text x="143.4" y="41.3">10</text><text x="160.3" y="35.699999999999996" font-size="10.4">−</text><text x="166.8" y="35.699999999999996" font-size="10.4">3</text></g>
<g font-size="14.6" fill="#000"><text x="76.9" y="183.3" font-style="italic" font-size="14.8">δ</text><text x="84.8" y="177.70000000000002" font-size="10.4">2</text><text x="93.1" y="183.3">=</text><text x="106.7" y="183.3">1.24</text><text x="134.8" y="183.3">×</text><text x="143.4" y="183.3">10</text><text x="160.3" y="177.70000000000002" font-size="10.4">−</text><text x="166.8" y="177.70000000000002" font-size="10.4">2</text></g>
<path d="M267.5 47 V60.7 M284.5 47 V60.7" stroke="#86a82c" stroke-width="1.1"/>
<text x="269.2" y="58.2" font-size="15" font-style="italic" fill="#86a82c">t</text>
<path d="M274.3 58 H281.6 M279 55.6 L282 58 L279 60.4" stroke="#86a82c" stroke-width="1" fill="none"/>
<path d="M377.9 118.9 V132.7 M395.4 118.9 V132.7" stroke="#e8572b" stroke-width="1.1"/>
<text x="380.4" y="129.8" font-size="15" font-style="italic" fill="#e8572b">t</text>
<path d="M385.6 129.6 H393 M388.4 127.1 L385.4 129.6 L388.4 132.1" stroke="#e8572b" stroke-width="1" fill="none"/>
<path transform="translate(228.9,118.1)" d="M8.8 2.6 C8.3 1 6.8 0.3 5.3 0.3 C3.3 0.3 1.7 1.4 1.7 2.7 C1.7 4.2 3.2 5.2 5.3 5.4 C2.6 5.5 0.1 6.9 0.1 9 C0.1 10.8 1.5 11.8 3.2 11.8 C5.5 11.8 7.4 11 8.3 10 C9.1 9 9.3 7.8 9.2 6.7" stroke="#4a8cc4" stroke-width="1.15" fill="none" stroke-linecap="round"/>
<g transform="translate(32.5,105.6) rotate(-90)"><path d="M0 -10.2 V2.3 M13.7 -10.2 V2.3" stroke="#000" stroke-width="1.1"/><text x="3.6" y="0" font-size="16" font-style="italic">t</text><text x="16.6" y="0" font-size="14">,</text><path transform="translate(27,-11.5)" d="M8.8 2.6 C8.3 1 6.8 0.3 5.3 0.3 C3.3 0.3 1.7 1.4 1.7 2.7 C1.7 4.2 3.2 5.2 5.3 5.4 C2.6 5.5 0.1 6.9 0.1 9 C0.1 10.8 1.5 11.8 3.2 11.8 C5.5 11.8 7.4 11 8.3 10 C9.1 9 9.3 7.8 9.2 6.7" stroke="#000" stroke-width="1.3" fill="none" stroke-linecap="round"/></g>
<g transform="translate(32.5,247.4) rotate(-90)"><path d="M0 -10.2 V2.3 M13.7 -10.2 V2.3" stroke="#000" stroke-width="1.1"/><text x="3.6" y="0" font-size="16" font-style="italic">t</text><text x="16.6" y="0" font-size="14">,</text><path transform="translate(27,-11.5)" d="M8.8 2.6 C8.3 1 6.8 0.3 5.3 0.3 C3.3 0.3 1.7 1.4 1.7 2.7 C1.7 4.2 3.2 5.2 5.3 5.4 C2.6 5.5 0.1 6.9 0.1 9 C0.1 10.8 1.5 11.8 3.2 11.8 C5.5 11.8 7.4 11 8.3 10 C9.1 9 9.3 7.8 9.2 6.7" stroke="#000" stroke-width="1.3" fill="none" stroke-linecap="round"/></g>
<text x="218.6" y="338.6" font-size="14.5" fill="#000" font-style="italic">p</text>
<text x="230.8" y="338.6" font-size="14" fill="#000">/</text>
<text x="239.3" y="338.6" font-size="14.5" fill="#000" font-style="italic">γ</text>
<text x="248.6" y="341.6" font-size="10" fill="#000" font-style="italic">r</text>
<path d="M239 328.9 H252.2" stroke="#000" stroke-width="1"/>
</svg></body></html>
